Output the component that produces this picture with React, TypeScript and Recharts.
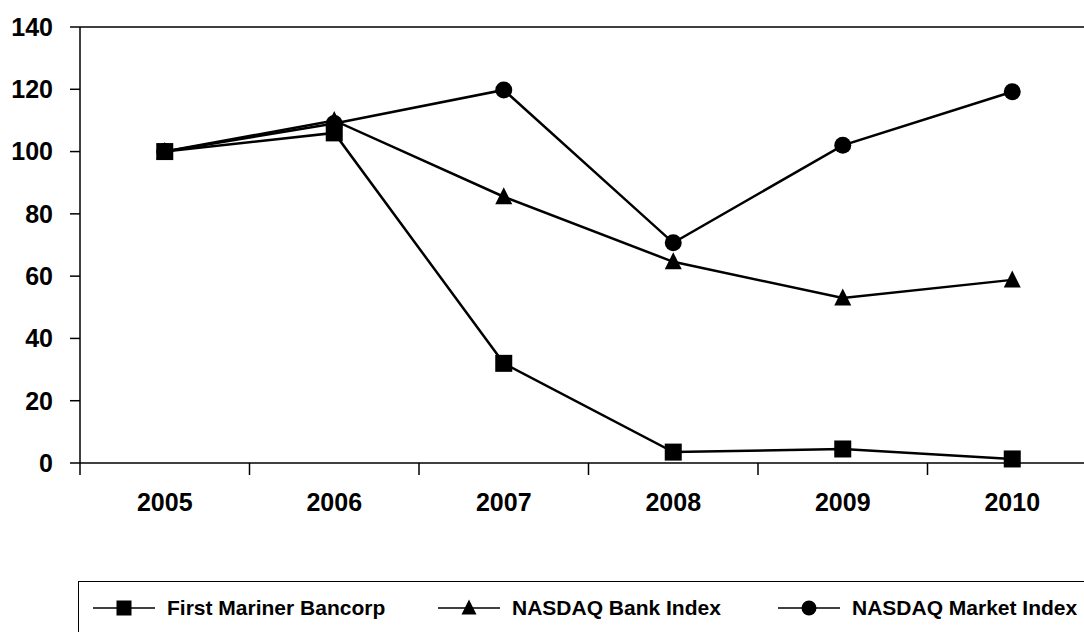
import { LineChart, Line, XAxis, YAxis, ReferenceLine } from "recharts";

const YEARS = ["2005", "2006", "2007", "2008", "2009", "2010"];
const FIRST_MARINER = [100, 106, 32, 3.5, 4.5, 1.3];
const BANK_INDEX = [100, 110, 85.5, 64.6, 53, 58.8];
const MARKET_INDEX = [100, 109, 119.8, 70.7, 102, 119.2];
const Y_TICKS = [0, 20, 40, 60, 80, 100, 120, 140];

const SERIES = [
  { key: "market", name: "NASDAQ Market Index", shape: "circle" },
  { key: "bank", name: "NASDAQ Bank Index", shape: "triangle" },
  { key: "fmb", name: "First Mariner Bancorp", shape: "square" },
];
const LEGEND_ORDER = ["fmb", "bank", "market"];

const FONT = "'Liberation Sans', Arial, sans-serif";

const data = YEARS.map((year, i) => ({
  pos: i + 0.5,
  year,
  fmb: FIRST_MARINER[i],
  bank: BANK_INDEX[i],
  market: MARKET_INDEX[i],
}));

// boundary ticks at integers, year labels at the band centres
const X_TICKS = [0, 0.5, 1, 1.5, 2, 2.5, 3, 3.5, 4, 4.5, 5, 5.5, 6];

function Marker({ shape, cx, cy, size }: { shape: string; cx: number; cy: number; size: number }) {
  const h = size / 2;
  if (shape === "square") {
    return <rect x={cx - h} y={cy - h} width={size} height={size} fill="#000" />;
  }
  if (shape === "triangle") {
    return (
      <polygon
        points={`${cx},${cy - h - 1} ${cx + h},${cy + h - 1} ${cx - h},${cy + h - 1}`}
        fill="#000"
      />
    );
  }
  return <circle cx={cx} cy={cy} r={h} fill="#000" />;
}

function XTick(props: any) {
  const { x, y, payload } = props;
  const v = payload.value as number;
  if (Number.isInteger(v)) {
    return <line x1={x} x2={x} y1={y - 12} y2={y} stroke="#000" strokeWidth={1.5} />;
  }
  return (
    <text
      x={x}
      y={y + 27}
      textAnchor="middle"
      dominantBaseline="central"
      fontFamily={FONT}
      fontWeight={700}
      fontSize={25}
      fill="#000"
    >
      {YEARS[Math.floor(v)]}
    </text>
  );
}

function ChartLegend() {
  return (
    <div
      style={{
        position: "absolute",
        left: 78,
        top: 581,
        width: 1100,
        height: 100,
        border: "1.5px solid #000",
        boxSizing: "border-box",
        fontFamily: FONT,
        fontWeight: 700,
        fontSize: 21,
      }}
    >
      {LEGEND_ORDER.map((k, i) => {
        const s = SERIES.find((x) => x.key === k)!;
        const left = [14, 359, 699][i];
        return (
          <div
            key={k}
            style={{ position: "absolute", left, top: 14, display: "flex", alignItems: "center", whiteSpace: "nowrap" }}
          >
            <svg width={62} height={20} style={{ marginRight: 12 }}>
              <line x1={0} x2={62} y1={10} y2={10} stroke="#000" strokeWidth={1.5} />
              <Marker shape={s.shape} cx={31} cy={10} size={15} />
            </svg>
            <span>{s.name}</span>
          </div>
        );
      })}
    </div>
  );
}

export default function App() {
  return (
    <div
      style={{
        position: "absolute",
        left: 0,
        top: 0,
        width: 1084,
        height: 632,
        overflow: "hidden",
        background: "#fff",
      }}
    >
      <LineChart width={1100} height={632} data={data} margin={{ top: 27, right: 3, bottom: 0, left: 0 }}>
        <XAxis
          dataKey="pos"
          type="number"
          domain={[0, 6]}
          ticks={X_TICKS}
          interval={0}
          height={169}
          tickLine={false}
          tickSize={12}
          tickMargin={0}
          axisLine={{ stroke: "#000", strokeWidth: 1.5 }}
          tick={<XTick />}
        />
        <YAxis
          domain={[0, 140]}
          ticks={Y_TICKS}
          interval={0}
          width={80}
          tickSize={10}
          tickMargin={17}
          axisLine={{ stroke: "#000", strokeWidth: 1.5 }}
          tickLine={{ stroke: "#000", strokeWidth: 1.5 }}
          tick={{ fontFamily: FONT, fontWeight: 700, fontSize: 25, fill: "#000" }}
        />
        <ReferenceLine y={140} stroke="#000" strokeWidth={1.5} />
        {SERIES.map((s) => (
          <Line
            key={s.key}
            dataKey={s.key}
            name={s.name}
            stroke="#000"
            strokeWidth={2.5}
            isAnimationActive={false}
            activeDot={false}
            dot={(p: any) => <Marker key={`${s.key}-${p.index}`} shape={s.shape} cx={p.cx} cy={p.cy} size={17} />}
          />
        ))}
      </LineChart>
      <ChartLegend />
    </div>
  );
}
